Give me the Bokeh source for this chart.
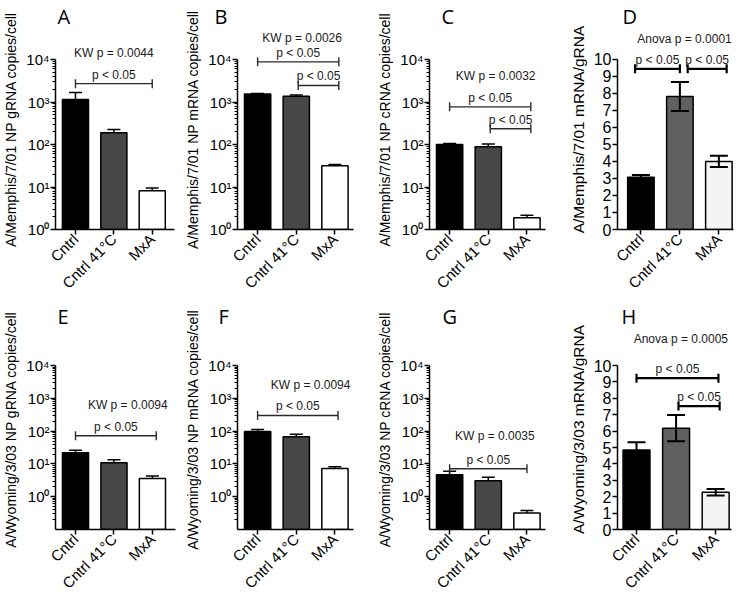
import math
from bokeh.plotting import figure
from bokeh.models import (Range1d, FixedTicker, CustomJSTickFormatter, Whisker, TeeHead,
                          ColumnDataSource, Label, LabelSet, Title)
from bokeh.core.properties import value
from bokeh.layouts import row, column
from bokeh.embed import file_html
from bokeh.resources import INLINE

# ---------------- data ----------------
categories = ["Cntrl", "Cntrl 41°C", "MxA"]
log_major_ticks = [1, 10, 100, 1000, 10000]
lin_major_ticks = [0, 1, 2, 3, 4, 5, 6, 7, 8, 9, 10]

# A  A/Memphis/7/01 NP gRNA copies/cell
a_mean = [1150, 188, 8.2]
a_sem = [530, 37, 1.3]
a_br_x1, a_br_x2, a_br_y = [0], [2], [2700]
# B  mRNA
b_mean = [1550, 1370, 31.5]
b_sem = [30, 90, 2.5]
b_br_x1, b_br_x2, b_br_y = [0, 1.05], [2.1, 2.1], [8800, 2450]
# C  cRNA
c_mean = [100, 89, 1.9]
c_sem = [5, 14, 0.25]
c_br_x1, c_br_x2, c_br_y = [0, 1.05], [2.1, 2.1], [770, 235]
# D  mRNA/gRNA
d_mean = [3.07, 7.82, 4.0]
d_sem = [0.13, 0.85, 0.33]
d_br_x1, d_br_x2, d_br_y = [-0.15, 1.2], [1.0, 2.2], [9.45, 9.45]
# E  A/Wyoming/3/03 gRNA
e_mean = [22, 10.8, 3.6]
e_sem = [4, 2.7, 0.7]
e_br_x1, e_br_x2, e_br_y = [0], [2.1], [72]
# F  mRNA
f_mean = [98, 67, 7.3]
f_sem = [15, 13, 0.9]
f_br_x1, f_br_x2, f_br_y = [0], [2.08], [300]
# G  cRNA
g_mean = [4.7, 3.05, 0.32]
g_sem = [1.3, 0.85, 0.06]
g_br_x1, g_br_x2, g_br_y = [0], [2.0], [7.1]
# H  mRNA/gRNA
h_mean = [4.85, 6.18, 2.27]
h_sem = [0.47, 0.8, 0.2]
h_br_x1, h_br_x2, h_br_y = [0, 1.06], [2.07, 2.1], [9.23, 7.53]

stat_texts = ["KW p = 0.0044", "KW p = 0.0026", "KW p = 0.0032", "Anova p = 0.0001",
              "KW p = 0.0094", "KW p = 0.0094", "KW p = 0.0035", "Anova p = 0.0005"]
y_labels = ["A/Memphis/7/01 NP gRNA copies/cell", "A/Memphis/7/01 NP mRNA copies/cell",
            "A/Memphis/7/01 NP cRNA copies/cell", "A/Memphis/7/01 mRNA/gRNA",
            "A/Wyoming/3/03 NP gRNA copies/cell", "A/Wyoming/3/03 NP mRNA copies/cell",
            "A/Wyoming/3/03 NP cRNA copies/cell", "A/Wyoming/3/03 mRNA/gRNA"]
letters = ["A", "B", "C", "D", "E", "F", "G", "H"]

log_colors = ["#000000", "#474747", "#ffffff"]
lin_colors = ["#000000", "#606060", "#f4f4f4"]

FONT = "Liberation Sans"

SUP = {"-1": "\u207b\u00b9", "0": "\u2070", "1": "\u00b9", "2": "\u00b2", "3": "\u00b3", "4": "\u2074"}
log_fmt_code = """
const s = %s;
const e = Math.round(Math.log10(tick));
return "10" + s[String(e)];
""" % (str(SUP).replace("'", '"'))


def panel(idx, mean, sem, bx1, bx2, by, log, ymin, yaxis_top, ymax, xr, w, h, bl, br,
          letter_off, stat_xy):
    p = figure(width=w, height=h,
               x_range=Range1d(*xr), y_range=Range1d(ymin, ymax),
               y_axis_type="log" if log else "linear",
               output_backend="svg", toolbar_location=None,
               min_border_left=bl, min_border_right=br,
               min_border_top=0, min_border_bottom=40)
    p.outline_line_color = None
    p.xgrid.visible = False
    p.ygrid.visible = False

    xs = list(range(len(categories)))
    colors = log_colors if log else lin_colors
    if log:
        lo = list(mean)
    else:
        lo = [m - s for m, s in zip(mean, sem)]
    hi = [m + s for m, s in zip(mean, sem)]
    src = ColumnDataSource(dict(x=xs, top=mean, color=colors, lo=lo, hi=hi))
    p.vbar(x="x", top="top", bottom=ymin, width=0.68, fill_color="color",
           line_color="black", line_width=1.5, source=src)

    lw = 1.5 if log else 2
    hs = 13 if log else 18
    p.add_layout(Whisker(source=src, base="x", lower="lo", upper="hi", dimension="height",
                         line_color="black", line_width=lw, level="annotation",
                         upper_head=TeeHead(size=hs, line_color="black", line_width=lw),
                         lower_head=None if log else TeeHead(size=hs, line_color="black", line_width=lw)))

    bsrc = ColumnDataSource(dict(x1=bx1, x2=bx2, y=by,
                                 xm=[(a + b) / 2 for a, b in zip(bx1, bx2)],
                                 txt=["p < 0.05"] * len(by)))
    blw = 1.4 if log else 2.2
    bcol = "#2a2a2a" if log else "black"
    p.add_layout(Whisker(source=bsrc, base="y", lower="x1", upper="x2", dimension="width",
                         line_color=bcol, line_width=blw, level="annotation",
                         upper_head=TeeHead(size=9, line_color=bcol, line_width=blw),
                         lower_head=TeeHead(size=9, line_color=bcol, line_width=blw)))
    p.add_layout(LabelSet(source=bsrc, x="xm", y="y", text="txt", text_align="center",
                          text_baseline="bottom", y_offset=2, text_font=value(FONT),
                          text_font_size="12px", text_color="#1a1a1a"))

    p.add_layout(Title(text=letters[idx], align="left", offset=letter_off, standoff=0,
                       text_font="Open Sans", text_font_size="20px",
                       text_font_style="normal", text_color="black"), "above")
    p.add_layout(Label(x=stat_xy[0], y=stat_xy[1], text=stat_texts[idx], text_font=FONT,
                       text_font_size="12px", text_align="center", text_baseline="middle",
                       text_color="#1a1a1a"))

    xa = p.xaxis[0]
    xa.ticker = FixedTicker(ticks=xs)
    xa.major_label_overrides = {i: c for i, c in enumerate(categories)}
    xa.major_label_orientation = math.pi / 4
    xa.major_label_text_font = FONT
    xa.major_label_text_font_size = "15px"
    xa.major_label_text_color = "black"
    xa.major_label_standoff = 2
    xa.axis_line_width = 1.5
    xa.axis_line_color = "black"
    xa.major_tick_line_width = 1.5
    xa.major_tick_in = 0
    xa.major_tick_out = 5

    ya = p.yaxis[0]
    ya.bounds = (ymin, yaxis_top)
    if log:
        minor = [m * 10.0 ** e for e in range(-1, 4) for m in range(2, 10)]
        ya.ticker = FixedTicker(ticks=log_major_ticks, minor_ticks=minor)
        ya.formatter = CustomJSTickFormatter(code=log_fmt_code)
        ya.major_label_text_font_size = "15px"
        ya.axis_label_text_font_size = "14px"
    else:
        ya.ticker = FixedTicker(ticks=lin_major_ticks)
        ya.major_label_text_font_size = "16px"
        ya.axis_label_text_font_size = "15.5px"
    ya.axis_label = y_labels[idx]
    ya.axis_label_text_font = FONT
    ya.axis_label_text_font_style = "normal"
    ya.axis_label_text_color = "black"
    ya.axis_label_standoff = 4
    ya.major_label_text_font = FONT
    ya.major_label_text_color = "black"
    ya.major_label_standoff = 1
    ya.axis_line_width = 1.5
    ya.axis_line_color = "black"
    ya.major_tick_line_width = 1.5
    ya.major_tick_in = 0
    ya.major_tick_out = 5
    ya.minor_tick_line_width = 1
    ya.minor_tick_in = 0
    ya.minor_tick_out = 3
    return p


H1, H2 = 300, 300
LOG1_TOP, LIN1_TOP = 10 ** 4.706, 11.76
LOG2_TOP, LIN2_TOP = 10 ** 5.10, 12.2

pa = panel(0, a_mean, a_sem, a_br_x1, a_br_x2, a_br_y, True, 1, 1e4, LOG1_TOP, (-0.52, 2.58),
           182, H1, 50, 8, letter_off=2, stat_xy=(1.0, 10 ** 4.16))
pb = panel(1, b_mean, b_sem, b_br_x1, b_br_x2, b_br_y, True, 1, 1e4, LOG1_TOP, (-0.52, 2.48),
           192, H1, 51, 21, letter_off=-23, stat_xy=(1.15, 10 ** 4.5))
pc = panel(2, c_mean, c_sem, c_br_x1, c_br_x2, c_br_y, True, 1, 1e4, LOG1_TOP, (-0.52, 2.48),
           192, H1, 51, 21, letter_off=12, stat_xy=(1.19, 10 ** 3.62))
pd_ = panel(3, d_mean, d_sem, d_br_x1, d_br_x2, d_br_y, False, 0, 10, LIN1_TOP, (-0.6, 2.375),
            168, H1, 48, 1, letter_off=5, stat_xy=(1.12, 11.2))

pe = panel(4, e_mean, e_sem, e_br_x1, e_br_x2, e_br_y, True, 0.1, 1e4, LOG2_TOP, (-0.52, 2.6),
           182, H2, 50, 7, letter_off=2, stat_xy=(1.36, 10 ** 2.80))
pf = panel(5, f_mean, f_sem, f_br_x1, f_br_x2, f_br_y, True, 0.1, 1e4, LOG2_TOP, (-0.52, 2.48),
           192, H2, 51, 21, letter_off=-19, stat_xy=(1.37, 10 ** 3.41))
pg = panel(6, g_mean, g_sem, g_br_x1, g_br_x2, g_br_y, True, 0.1, 1e4, LOG2_TOP, (-0.52, 2.48),
           192, H2, 51, 21, letter_off=13, stat_xy=(1.17, 10 ** 1.84))
ph = panel(7, h_mean, h_sem, h_br_x1, h_br_x2, h_br_y, False, 0, 10, LIN2_TOP, (-0.48, 2.4),
           168, H2, 50, 3, letter_off=4, stat_xy=(1.12, 11.65))

layout = column(row(pa, pb, pc, pd_), row(pe, pf, pg, ph))

with open("out.html", "w", encoding="utf-8") as fh:
    fh.write(file_html(layout, INLINE))
